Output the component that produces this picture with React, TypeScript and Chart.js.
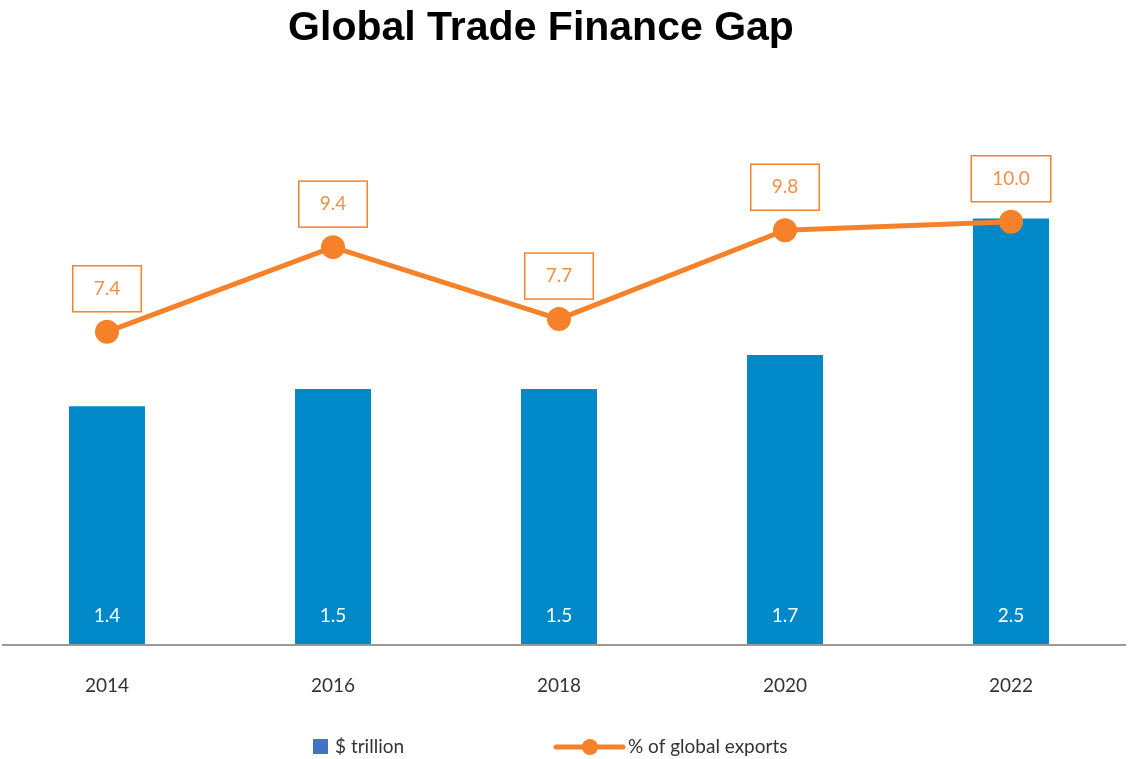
import React, { useEffect, useRef } from "react";
import { Chart, registerables } from "chart.js";

Chart.register(...registerables);

const years = ["2014", "2016", "2018", "2020", "2022"];
const tradeGapTrillion = [1.4, 1.5, 1.5, 1.7, 2.5];
const pctGlobalExports = [7.4, 9.4, 7.7, 9.8, 10.0];
const seriesNames = ["$ trillion", "% of global exports"];
const chartTitle = "Global Trade Finance Gap";

const BAR_COLOR = "#0088c8";
const LINE_COLOR = "#f5822a";
const LABEL_TEXT = "#f2904a";
const LEGEND_BAR = "#4472c4";
const FONT = "Lato, 'Open Sans', sans-serif";
const SHIFT = 6; // canvas is shifted left by this many px

const labelsPlugin = {
  id: "customLabels",
  afterDatasetsDraw(chart: any) {
    const ctx = chart.ctx;
    const area = chart.chartArea;
    ctx.save();
    // axis line
    ctx.strokeStyle = "#9a9a9e";
    ctx.lineWidth = 2;
    ctx.beginPath();
    ctx.moveTo(2 + SHIFT, area.bottom);
    ctx.lineTo(1126 + SHIFT, area.bottom);
    ctx.stroke();

    ctx.font = `19px ${FONT}`;
    ctx.textAlign = "center";
    ctx.textBaseline = "middle";

    // category labels
    const xScale = chart.scales.x;
    ctx.fillStyle = "#333333";
    chart.data.labels.forEach((lab: string, i: number) => {
      ctx.fillText(lab, xScale.getPixelForValue(i), area.bottom + 41);
    });

    // bar value labels
    const barMeta = chart.getDatasetMeta(0);
    ctx.fillStyle = "#ffffff";
    barMeta.data.forEach((el: any, i: number) => {
      ctx.fillText(tradeGapTrillion[i].toFixed(1), el.x, area.bottom - 29);
    });

    // line value boxes
    const lineMeta = chart.getDatasetMeta(1);
    lineMeta.data.forEach((el: any, i: number) => {
      const txt = pctGlobalExports[i].toFixed(1);
      const tw = ctx.measureText(txt).width;
      const w = tw + 42;
      const h = 46;
      const bottom = el.y - 20;
      ctx.fillStyle = "#ffffff";
      ctx.fillRect(el.x - w / 2, bottom - h, w, h);
      ctx.strokeStyle = LINE_COLOR;
      ctx.lineWidth = 1.5;
      ctx.strokeRect(el.x - w / 2, bottom - h, w, h);
      ctx.fillStyle = LABEL_TEXT;
      ctx.fillText(txt, el.x, bottom - h / 2);
    });
    ctx.restore();
  },
  afterDraw(chart: any) {
    const ctx = chart.ctx;
    ctx.save();
    ctx.font = `19px ${FONT}`;
    ctx.textBaseline = "middle";
    ctx.textAlign = "left";
    const ly = 747;
    // bar legend
    ctx.fillStyle = LEGEND_BAR;
    ctx.fillRect(313 + SHIFT, 739, 15, 15);
    ctx.fillStyle = "#333333";
    ctx.fillText(seriesNames[0], 335 + SHIFT, ly);
    // line legend
    ctx.strokeStyle = LINE_COLOR;
    ctx.lineWidth = 5;
    ctx.lineCap = "round";
    ctx.beginPath();
    ctx.moveTo(556 + SHIFT, ly);
    ctx.lineTo(623 + SHIFT, ly);
    ctx.stroke();
    ctx.fillStyle = LINE_COLOR;
    ctx.beginPath();
    ctx.arc(590 + SHIFT, ly, 8, 0, Math.PI * 2);
    ctx.fill();
    ctx.fillStyle = "#333333";
    ctx.fillText(seriesNames[1], 628 + SHIFT, ly);
    ctx.restore();
  },
};

export default function App() {
  const ref = useRef<HTMLCanvasElement | null>(null);

  useEffect(() => {
    document.body.style.margin = "0";
    const canvas = ref.current;
    if (!canvas) return;
    const chart = new Chart(canvas, {
      type: "bar",
      data: {
        labels: years,
        datasets: [
          {
            type: "bar",
            label: seriesNames[0],
            data: tradeGapTrillion,
            backgroundColor: BAR_COLOR,
            yAxisID: "y",
            order: 1,
            categoryPercentage: 1,
            barPercentage: 0.336,
          },
          {
            type: "line",
            label: seriesNames[1],
            data: pctGlobalExports,
            borderColor: LINE_COLOR,
            backgroundColor: LINE_COLOR,
            borderWidth: 5,
            pointRadius: 12,
            pointHoverRadius: 12,
            pointBackgroundColor: LINE_COLOR,
            pointBorderWidth: 0,
            yAxisID: "y2",
            order: 0,
            tension: 0,
            clip: false,
          } as any,
        ],
      },
      options: {
        responsive: false,
        animation: false,
        devicePixelRatio: 1,
        layout: { autoPadding: false, padding: { top: 99, bottom: 114, left: 0, right: 10 } },
        plugins: {
          legend: { display: false },
          tooltip: { enabled: false },
          title: { display: false },
        },
        scales: {
          x: {
            offset: true,
            display: false,
            grid: { display: false },
          },
          y: {
            display: false,
            min: 0,
            max: 3.2,
          },
          y2: {
            display: false,
            min: 0,
            max: 12.9,
          },
        },
      } as any,
      plugins: [labelsPlugin],
    });
    return () => chart.destroy();
  }, []);

  return (
    <div style={{ position: "relative", width: 1128, height: 759, overflow: "hidden", background: "#fff" }}>
      <div
        style={{
          position: "absolute",
          left: 541,
          top: 3,
          transform: "translateX(-50%)",
          whiteSpace: "nowrap",
          fontFamily: "'Liberation Sans', Arial, sans-serif",
          fontWeight: "bold",
          fontSize: 41,
          color: "#000",
          zIndex: 2,
        }}
      >
        {chartTitle}
      </div>
      <canvas
        ref={ref}
        width={1140}
        height={759}
        style={{ position: "absolute", left: -SHIFT, top: 0, width: 1140, height: 759 }}
      />
    </div>
  );
}
